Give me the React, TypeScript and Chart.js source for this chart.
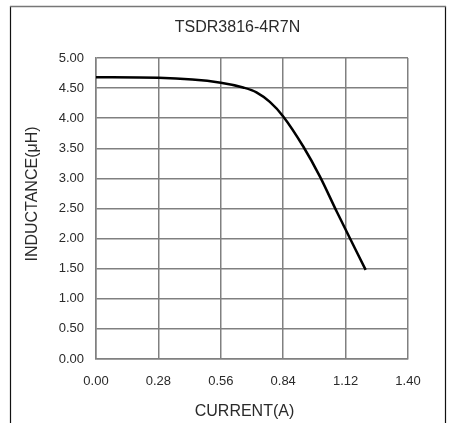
import React, { useEffect, useRef } from "react";
import { Chart, registerables } from "chart.js";

Chart.register(...registerables);

const currentA = [0, 0.28, 0.56, 0.66, 0.72, 0.78, 0.84, 0.93, 1.005, 1.08, 1.21];
const inductance = [4.68, 4.67, 4.59, 4.51, 4.43, 4.27, 4.03, 3.53, 3.03, 2.45, 1.48];
const xTicks = [0, 0.28, 0.56, 0.84, 1.12, 1.4];
const yTicks = [0, 0.5, 1, 1.5, 2, 2.5, 3, 3.5, 4, 4.5, 5];
const chartTitle = "TSDR3816-4R7N";
const xTitle = "CURRENT(A)";
const yTitle = "INDUCTANCE(μH)";

const FONT = "'Liberation Sans', Arial, sans-serif";
const TEXT = "#2a2a2a";

const framePlugin = {
  id: "frame",
  afterDraw(chart: any) {
    const ctx = chart.ctx;
    ctx.save();
    ctx.lineWidth = 1.2;
    ctx.strokeStyle = "#111";
    ctx.beginPath();
    ctx.moveTo(10.5, 423);
    ctx.lineTo(10.5, 6);
    ctx.moveTo(445.5, 6);
    ctx.lineTo(445.5, 423);
    ctx.stroke();
    ctx.strokeStyle = "#777";
    ctx.lineWidth = 1.5;
    ctx.beginPath();
    ctx.moveTo(10, 6.5);
    ctx.lineTo(446, 6.5);
    ctx.stroke();

    ctx.fillStyle = TEXT;
    ctx.textAlign = "center";
    ctx.textBaseline = "middle";
    ctx.font = `16px ${FONT}`;
    ctx.fillText(chartTitle, 237.5, 28);
    ctx.fillText(xTitle, 244.5, 412);
    ctx.translate(33, 194);
    ctx.rotate(-Math.PI / 2);
    ctx.fillText(yTitle, 0, 0);
    ctx.restore();
  },
};

export default function App() {
  const ref = useRef<HTMLCanvasElement>(null);
  useEffect(() => {
    if (!ref.current) return;
    const chart = new Chart(ref.current, {
      type: "scatter",
      data: {
        datasets: [
          {
            data: currentA.map((x, i) => ({ x, y: inductance[i] })),
            showLine: true,
            borderColor: "#000",
            borderWidth: 2.5,
            pointRadius: 0,
            cubicInterpolationMode: "monotone",
          },
        ],
      },
      options: {
        responsive: false,
        animation: false,
        layout: { padding: { left: 0, right: 41, top: 58, bottom: 0 } },
        plugins: {
          legend: { display: false },
          tooltip: { enabled: false },
          title: { display: false },
        },
        scales: {
          x: {
            type: "linear",
            min: 0,
            max: 1.4,
            afterBuildTicks: (s: any) => {
              s.ticks = xTicks.map((v) => ({ value: v }));
            },
            afterFit: (s: any) => {
              s.height = 64;
            },
            border: { display: true, color: "#808080", width: 1.5 },
            grid: { color: "#808080", lineWidth: 1.5, drawTicks: false },
            ticks: {
              color: TEXT,
              font: { family: FONT, size: 13 },
              padding: 15,
              maxRotation: 0,
              callback: (v: any) => Number(v).toFixed(2),
            },
          },
          y: {
            type: "linear",
            min: 0,
            max: 5,
            afterBuildTicks: (s: any) => {
              s.ticks = yTicks.map((v) => ({ value: v }));
            },
            afterFit: (s: any) => {
              s.width = 96;
            },
            border: { display: true, color: "#808080", width: 1.5 },
            grid: { color: "#808080", lineWidth: 1.5, drawTicks: false },
            ticks: {
              color: TEXT,
              font: { family: FONT, size: 13 },
              padding: 12,
              callback: (v: any) => Number(v).toFixed(2),
            },
          },
        },
      },
      plugins: [framePlugin],
    } as any);
    return () => chart.destroy();
  }, []);
  return (
    <div style={{ position: "absolute", left: 0, top: 0, width: 449, height: 423, background: "#fff" }}>
      <canvas ref={ref} width={449} height={423} style={{ display: "block" }} />
    </div>
  );
}
